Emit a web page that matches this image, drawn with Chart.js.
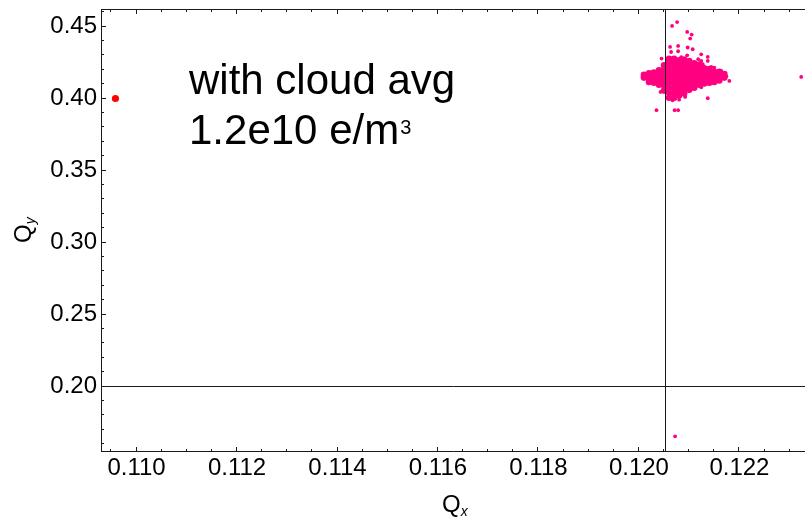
<!DOCTYPE html>
<html>
<head>
<meta charset="utf-8">
<title>Tune footprint with electron cloud</title>
<script src="https://cdn.jsdelivr.net/npm/chart.js"></script>
<style>
  body { margin: 0; background: #fff; overflow: hidden; }
  #wrap { position: relative; width: 805px; height: 517px; overflow: hidden; }
  /* chart.js keeps ~5px on the right; the frame runs off the edge in the original */
  #cbox { position: absolute; left: 0; top: 0; width: 810px; height: 517px; }
  .lbl { position: absolute; font-family: "Liberation Sans", Arial, sans-serif; color: #000; white-space: nowrap; }
</style>
</head>
<body>
<div id="wrap">
  <div id="cbox"><canvas id="tuneChart"></canvas></div>
  <div class="lbl" style="left:189px; top:55px; font-size:42px; line-height:50px;">with cloud avg<br>1.2e10 e/m<span style="font-size:20px; position:relative; top:-10px; left:1px;">3</span></div>
  <div class="lbl" style="left:442px; top:492px; font-size:24px; line-height:24px;">Q<span style="font-size:14px; font-style:italic; position:relative; top:4px;">x</span></div>
  <div class="lbl" style="left:11px; top:243px; font-size:24px; line-height:24px; transform-origin:0 0; transform:rotate(-90deg);">Q<span style="font-size:14px; font-style:italic; position:relative; top:4px;">y</span></div>
</div>
<script>
// axis setup
const xRange = [0.1092924, 0.1233256];
const yRange = [0.154514, 0.462153];
const xTicks = [0.110, 0.112, 0.114, 0.116, 0.118, 0.120, 0.122];
const yTicks = [0.20, 0.25, 0.30, 0.35, 0.40, 0.45];
const axisCross = { x: 0.12052, y: 0.20 };

// initial tune (red)
const startX = [0.10958];
const startY = [0.400];

// dense core of the pink cloud, by column of Qx
const coreCols = [0.1201, 0.1202, 0.1203, 0.1204, 0.1205, 0.1206, 0.1207, 0.1208, 0.1209,
                  0.1210, 0.1211, 0.1212, 0.1213, 0.1214, 0.1215, 0.1216, 0.1217];
const coreRows = [
  [0.4145, 0.4165],
  [0.4115, 0.4145, 0.4175],
  [0.411, 0.4145, 0.418],
  [0.4095, 0.413, 0.4165, 0.4195],
  [0.4055, 0.409, 0.4125, 0.416, 0.4195, 0.423],
  [0.4005, 0.404, 0.4075, 0.411, 0.4145, 0.418, 0.4215, 0.425, 0.4275],
  [0.4005, 0.404, 0.4075, 0.411, 0.4145, 0.418, 0.4215, 0.425, 0.4275],
  [0.402, 0.4055, 0.409, 0.4125, 0.416, 0.4195, 0.423, 0.4265],
  [0.4035, 0.407, 0.4105, 0.414, 0.4175, 0.421, 0.4245, 0.427],
  [0.406, 0.4095, 0.413, 0.4165, 0.42, 0.4235, 0.426],
  [0.4075, 0.411, 0.4145, 0.418, 0.4215, 0.4245],
  [0.4095, 0.413, 0.4165, 0.42, 0.4235],
  [0.4105, 0.414, 0.4175, 0.421],
  [0.411, 0.4145, 0.418, 0.4205],
  [0.4115, 0.415, 0.4185],
  [0.4125, 0.416, 0.4185],
  [0.4145, 0.417]
];

// scattered particles around the core
const haloX = [0.12066, 0.12076, 0.12096, 0.12105, 0.12102, 0.12062, 0.12078, 0.12097, 0.12064, 0.12078,
               0.12107, 0.12124, 0.12096, 0.12045, 0.12137, 0.12137, 0.12127, 0.12144, 0.12118, 0.12084,
               0.12174, 0.12180, 0.12323, 0.12043, 0.12035, 0.12071, 0.12078, 0.12137, 0.12092, 0.12080,
               0.12067, 0.12072, 0.12124, 0.12150, 0.12164, 0.12124, 0.12144];
const haloY = [0.4504, 0.4531, 0.4462, 0.4444, 0.4416, 0.4358, 0.4365, 0.4354, 0.4323, 0.4328,
               0.4342, 0.4307, 0.4300, 0.4277, 0.4289, 0.4261, 0.4238, 0.4219, 0.4273, 0.4287,
               0.4155, 0.4122, 0.4150, 0.4046, 0.3919, 0.3919, 0.3919, 0.4002, 0.4011, 0.3992,
               0.3988, 0.1654, 0.4261, 0.4215, 0.4191, 0.4078, 0.4111];

const pink = '#ff0080';
const frameColor = '#1a1a1a';

const coreData = coreCols.flatMap((x, i) => coreRows[i].map(y => ({ x, y })));
const haloData = haloX.map((x, i) => ({ x, y: haloY[i] }));
const startData = startX.map((x, i) => ({ x, y: startY[i] }));

// Mathematica-like frame: inward ticks, axes crossing at (0.12052, 0.20)
const framePlugin = {
  id: 'frame',
  afterDatasetsDraw(chart) {
    const { ctx, chartArea: a, scales: { x, y } } = chart;
    ctx.save();
    ctx.strokeStyle = frameColor;
    ctx.lineWidth = 1;
    ctx.beginPath();
    // axes
    const ax = Math.round(x.getPixelForValue(axisCross.x)) + 0.5;
    const ay = Math.round(y.getPixelForValue(axisCross.y)) - 0.5;
    ctx.moveTo(ax, a.top); ctx.lineTo(ax, a.bottom);
    ctx.moveTo(a.left, ay); ctx.lineTo(a.right, ay);
    // frame
    ctx.moveTo(a.left + 0.5, a.top); ctx.lineTo(a.left + 0.5, a.bottom);
    ctx.moveTo(a.left, a.bottom - 0.5); ctx.lineTo(a.right, a.bottom - 0.5);
    ctx.moveTo(a.left, a.top + 0.5); ctx.lineTo(a.right, a.top + 0.5);
    // x ticks every 0.0005, major every 0.002
    for (let k = Math.ceil(xRange[0] / 0.0005); k * 0.0005 <= xRange[1]; k++) {
      const px = Math.round(x.getPixelForValue(k * 0.0005)) - 0.5;
      const len = k % 4 === 0 ? 5 : 3;
      ctx.moveTo(px, a.bottom); ctx.lineTo(px, a.bottom - len);
      ctx.moveTo(px, a.top); ctx.lineTo(px, a.top + len);
    }
    // y ticks every 0.01, major every 0.05
    for (let k = Math.ceil(yRange[0] / 0.01); k * 0.01 <= yRange[1]; k++) {
      const py = Math.round(y.getPixelForValue(k * 0.01)) - 0.5;
      const len = k % 5 === 0 ? 5 : 3;
      ctx.moveTo(a.left, py); ctx.lineTo(a.left + len, py);
    }
    ctx.stroke();
    ctx.restore();
  }
};

const tickFont = { family: '"Liberation Sans", Arial, sans-serif', size: 24 };

new Chart(document.getElementById('tuneChart'), {
  type: 'scatter',
  data: {
    datasets: [
      { label: 'start', data: startData, backgroundColor: '#ff0000', pointRadius: 3.6, pointBorderWidth: 0 },
      { label: 'cloud core', data: coreData, backgroundColor: pink, pointRadius: 3.3, pointBorderWidth: 0 },
      { label: 'cloud halo', data: haloData, backgroundColor: pink, pointRadius: 1.9, pointBorderWidth: 0 }
    ]
  },
  options: {
    responsive: true,
    maintainAspectRatio: false,
    animation: false,
    events: [],
    layout: { padding: { top: 9, right: 0, bottom: 0, left: 0 } },
    plugins: { legend: { display: false }, tooltip: { enabled: false } },
    scales: {
      x: {
        type: 'linear', min: xRange[0], max: xRange[1],
        grid: { display: false, drawTicks: false, tickLength: 0 }, border: { display: false },
        afterBuildTicks: s => { s.ticks = xTicks.map(v => ({ value: v })); },
        afterFit: s => { s.height = 65; s.paddingLeft = 0; s.paddingRight = 0; },
        ticks: { font: tickFont, color: '#000', padding: 2, maxRotation: 0, autoSkip: false,
                 callback: v => v.toFixed(3) }
      },
      y: {
        type: 'linear', min: yRange[0], max: yRange[1],
        grid: { display: false, drawTicks: false, tickLength: 0 }, border: { display: false },
        afterBuildTicks: s => { s.ticks = yTicks.map(v => ({ value: v })); },
        afterFit: s => { s.width = 101; s.paddingTop = 0; s.paddingBottom = 0; },
        ticks: { font: tickFont, color: '#000', padding: 4, autoSkip: false,
                 callback: v => v.toFixed(2) }
      }
    }
  },
  plugins: [framePlugin]
});
</script>
</body>
</html>
